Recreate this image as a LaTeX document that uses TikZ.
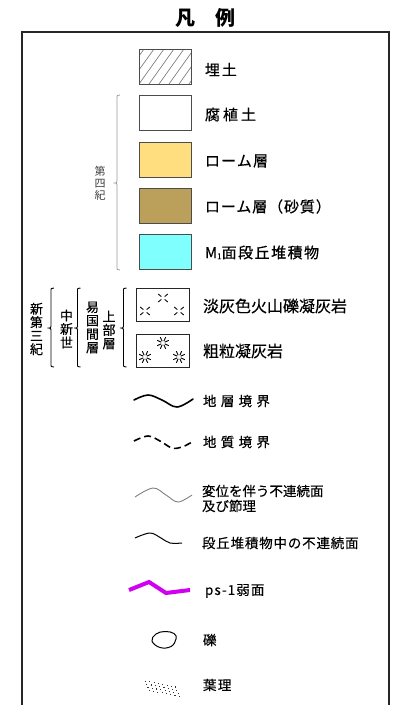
\documentclass[tikz,border=0pt]{standalone}
\usepackage{fontspec}
\setmainfont{Noto Sans CJK JP}
\newcommand\ltrsp[2]{{\addfontfeature{LetterSpace=#1}#2}}
% colour, x, top, mid, bottom
\newcommand\mybrace[5]{%
 \draw[#1] (#2+3,#3) .. controls (#2,#3) .. (#2,#3+4) -- (#2,#4-4) .. controls (#2,#4) .. (#2-3.5,#4) .. controls (#2,#4) .. (#2,#4+4) -- (#2,#5-4) .. controls (#2,#5) .. (#2+3,#5);}
\newcommand\tuffA[2]{\foreach \a in {40,140,220,320}{\draw[tuffmark] (#1,#2) ++(\a:2.2) -- ++(\a:4);}}
\newcommand\tuffB[2]{\foreach \a in {25,65,115,155,205,245,295,335}{\draw[tuffmark] (#1,#2) ++(\a:2) -- ++(\a:4.4);}}
\definecolor{loam}{RGB}{255,222,128}
\definecolor{loamsand}{RGB}{186,160,90}
\definecolor{terr}{RGB}{128,255,255}
\definecolor{weak}{RGB}{208,0,240}
\begin{document}
\begin{tikzpicture}[x=1pt,y=-1pt,
  every node/.style={inner sep=0pt,outer sep=0pt},
  swatch/.style={draw=black!70,line width=0.8pt,minimum width=52,minimum height=35},
  tuffbox/.style={draw=black!85,line width=0.9pt,minimum width=53,minimum height=33},
  lbl/.style={anchor=west,font=\fontsize{15}{16}\selectfont\addfontfeature{FakeBold=0.6}},
  lbls/.style={anchor=west,font=\fontsize{13.5}{15}\selectfont\addfontfeature{FakeBold=0.3}},
  vtext/.style={align=center,font=\fontsize{13}{13.5}\selectfont\addfontfeature{FakeBold=0.3}},
  tuffmark/.style={line width=0.9pt,black},
  brc/.style={line width=0.9pt,black},
  wave/.style={line width=1.6pt,black,line cap=round},
]
\useasboundingbox (0,0) rectangle (394,705);
% title and frame
\node[font=\fontsize{20}{20}\selectfont\bfseries] (title) at (205,18) {凡\hspace{1em}例};
\draw[line width=1.3pt,black!85] (22,715) -- (22,32) -- (389,32) -- (389,715);

% swatches
\node[swatch] (b1) at (165,66.5) {};
\begin{scope}
 \clip (139,49) rectangle (191,84);
 \foreach \i in {-30,-20,...,60} \draw[black!55,line width=0.6pt] (139+\i,84) -- ++(25,-35);
\end{scope}
\node[swatch] (b1f) at (165,66.5) {};
\node[swatch] (b2) at (165,112.5) {};
\node[swatch,fill=loam] (b3) at (165,159.5) {};
\node[swatch,fill=loamsand] (b4) at (165,205.5) {};
\node[swatch,fill=terr] (b5) at (165,251.5) {};

\node[lbl] (l1) at (205,69.5) {\ltrsp{12}{埋土}};
\node[lbl] (l2) at (205,114.5) {\ltrsp{20}{腐植土}};
\node[lbl] (l3) at (205,161) {\ltrsp{8}{ローム層}};
\node[lbl] (l4) at (205,206.5) {\ltrsp{6}{ローム層（砂質）}};
\node[lbl] (l5) at (205,252.5) {\ltrsp{10}{M{\fontsize{8}{8}\selectfont\raisebox{-1pt}{1}}面段丘堆積物}};

% quaternary brace
\mybrace{black!40,line width=0.8pt}{117}{95}{183}{270}
\node[vtext,font=\fontsize{11}{12}\selectfont,text=black!75] (q) at (100,183) {第\\四\\紀};

% neogene
\node[tuffbox] (t1) at (162.5,304.5) {};
\node[tuffbox] (t2) at (162.5,350.5) {};
\tuffA{163}{298}\tuffA{145}{311}\tuffA{179}{311}
\tuffB{163}{343}\tuffB{145}{357}\tuffB{179}{357}
\node[anchor=west,font=\fontsize{16}{17}\selectfont\addfontfeature{FakeBold=0.4}] (l6) at (203,306) {淡灰色火山礫凝灰岩};
\node[anchor=west,font=\fontsize{16}{17}\selectfont\addfontfeature{FakeBold=0.4}] (l7) at (203,351) {粗粒凝灰岩};

\mybrace{brc}{51}{288}{328}{367}
\mybrace{brc}{77.5}{288}{328}{367}
\mybrace{brc}{123.5}{288}{328}{367}
\node[vtext] (n1) at (36.5,329) {新\\第\\三\\紀};
\node[vtext] (n2) at (66.5,329) {中\\新\\世};
\node[vtext] (n3) at (92.5,327.5) {易\\国\\間\\層};
\node[vtext] (n4) at (109,330) {上\\部\\層};

% boundaries
\draw[wave] plot[smooth,tension=0.6] coordinates {(134,400) (148,395) (162,400) (177,407) (193,399)};
\node[lbls] (l8) at (203,401) {\ltrsp{32}{地層境界}};
\draw[wave,line cap=butt,dash pattern=on 7pt off 4pt] plot[smooth,tension=0.6] coordinates {(134,441) (148,436) (160,441) (172,448) (182,447) (192,442)};
\node[lbls] (l9) at (203,442) {\ltrsp{32}{地質境界}};
\draw[black!50,line width=0.9pt] plot[smooth,tension=0.6] coordinates {(135,497) (153,488) (166,495) (178,502) (192,495)};
\node[lbls,align=left] (l10) at (202,498.5) {変位を伴う不連続面\\及び節理};
\draw[black,line width=1pt] plot[smooth,tension=0.6] coordinates {(135,538) (150,533) (161,538) (170,543) (182,543)};
\node[lbls] (l11) at (202,543) {\ltrsp{6}{段丘堆積物中の不連続面}};

\draw[weak,line width=4pt,line join=miter] (129,590) -- (149,582) -- (166,593) -- (190,590);
\node[lbls] (l12) at (205,591) {\ltrsp{8}{ps-1弱面}};

\draw[line width=1pt] plot[smooth cycle,tension=0.7] coordinates {(152,641) (156,634) (165,631.5) (174,633.5) (176,639) (171,646.5) (160,647.5)};
\node[lbls] (l13) at (203,640) {礫};

\foreach \j in {0,...,3} \foreach \i in {0,...,7}
  \fill[black!80] (145+\i*4.3+\j*1.2, 680.5+\j*3.1+\i*0.85) rectangle ++(1.1,1.1);
\node[lbls] (l14) at (203,685) {\ltrsp{10}{葉理}};
\end{tikzpicture}
\end{document}
